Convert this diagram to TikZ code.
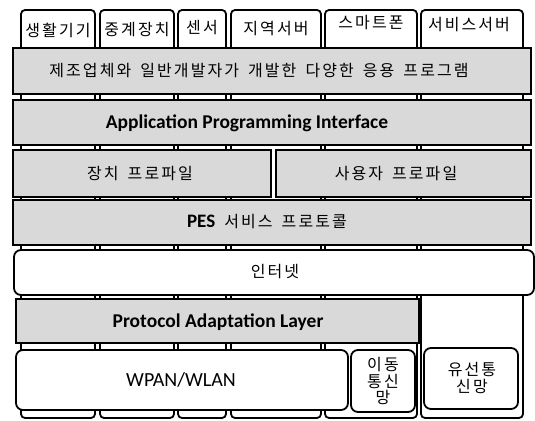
\documentclass[tikz,border=0pt]{standalone}
\usepackage{fontspec}
\setmainfont{Carlito}
\newfontfamily\kr[LetterSpace=13,WordSpace=1.6]{Noto Sans CJK KR}
\definecolor{layergray}{HTML}{D9D9D9}
\begin{document}
\begin{tikzpicture}[x=1pt,y=-1pt,
  col/.style={draw=black,line width=1.8pt,fill=white,rounded corners=4pt},
  layer/.style={draw=black,line width=1.8pt,fill=layergray},
  rlayer/.style={draw=black,line width=1.8pt,fill=white,rounded corners=7pt},
  tab/.style={font=\kr\fontsize{16}{18}\selectfont,inner sep=0pt},
  lbl/.style={font=\kr\fontsize{16}{18}\selectfont,inner sep=0pt},
  elbl/.style={font=\bfseries\fontsize{19.5}{21}\selectfont,inner sep=0pt},
  mlbl/.style={font=\kr\fontsize{16}{16.5}\selectfont,inner sep=0pt,align=center}]
\useasboundingbox (0,0) rectangle (535,420);
% columns
\draw[col] (21,10) rectangle (95,418);
\draw[col] (100,10) rectangle (174,418);
\draw[col] (178,10) rectangle (226,418);
\draw[col] (231,10) rectangle (321,418);
\draw[col] (325,10) rectangle (417,418);
\draw[col] (421,10) rectangle (523,418);
\node[tab] (t1) at (58,30) {생활기기};
\node[tab] (t2) at (137,30) {중계장치};
\node[tab] (t3) at (202,28) {센서};
\node[tab] (t4) at (276,29) {지역서버};
\node[tab] (t5) at (371,23) {스마트폰};
\node[tab] (t6) at (469,25) {서비스서버};
% layers
\draw[layer] (13,48) rectangle (531,94);
\node[lbl] (app) at (259,71) {제조업체와 일반개발자가 개발한 다양한 응용 프로그램};
\draw[layer] (13,100) rectangle (531,145);
\node[elbl] (api) at (247,123) {Application Programming Interface};
\draw[layer] (13,150) rectangle (271,197);
\node[lbl] (dev) at (140,174) {장치 프로파일};
\draw[layer] (276,150) rectangle (531,197);
\node[lbl] (usr) at (396,174) {사용자 프로파일};
\draw[layer] (13,200) rectangle (531,245);
\node[lbl] (pes) at (267,222) {{\bfseries\rmfamily\fontsize{19}{20}\selectfont PES} 서비스 프로토콜};
\draw[rlayer] (14,250) rectangle (534,295);
\node[lbl] (inet) at (275,272) {인터넷};
\draw[layer] (16,299) rectangle (419,343);
\node[elbl] (pal) at (218,322) {Protocol Adaptation Layer};
\draw[rlayer] (16,350) rectangle (348,410);
\node[font=\fontsize{20}{22}\selectfont,inner sep=0pt] (wpan) at (181,380) {WPAN/WLAN};
\draw[rlayer] (351,350) rectangle (415,412);
\node[mlbl] (mob) at (383,381) {이동\\통신\\망};
\draw[rlayer] (424,348) rectangle (518,409);
\node[mlbl] (wire) at (472,378) {유선통\\신망};
\end{tikzpicture}
\end{document}
